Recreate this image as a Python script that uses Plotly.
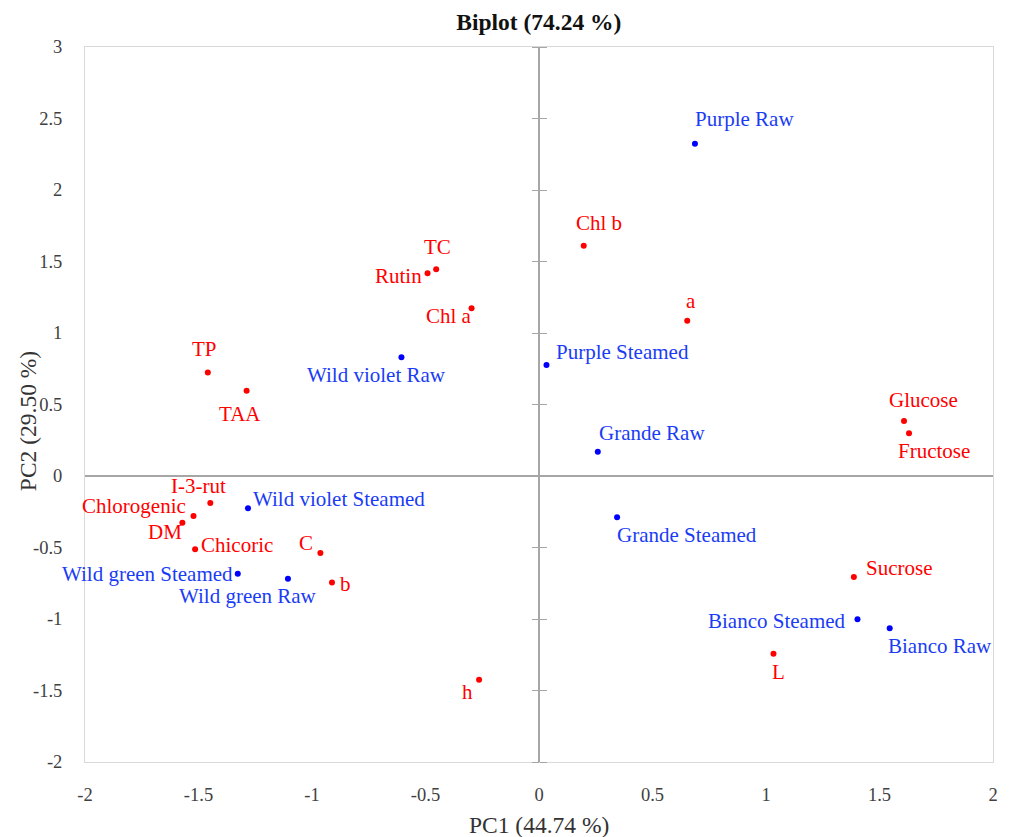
import plotly.graph_objects as go

# ---------------- data ----------------
obs_names = ["Purple Raw", "Purple Steamed", "Wild violet Raw", "Grande Raw",
             "Grande Steamed", "Bianco Steamed", "Bianco Raw",
             "Wild violet Steamed", "Wild green Steamed", "Wild green Raw"]
obs_pc1 = [0.687, 0.033, -0.606, 0.259, 0.344, 1.403, 1.545, -1.282, -1.327, -1.106]
obs_pc2 = [2.323, 0.777, 0.831, 0.170, -0.289, -1.001, -1.064, -0.226, -0.684, -0.718]

var_names = ["TP", "TAA", "Rutin", "TC", "Chl a", "Chl b", "a", "Glucose", "Fructose",
             "I-3-rut", "Chlorogenic", "DM", "Chicoric", "C", "b", "h", "Sucrose", "L"]
var_pc1 = [-1.459, -1.288, -0.491, -0.453, -0.297, 0.197, 0.653, 1.608, 1.630,
           -1.448, -1.522, -1.571, -1.515, -0.963, -0.912, -0.264, 1.387, 1.033]
var_pc2 = [0.723, 0.597, 1.418, 1.446, 1.173, 1.610, 1.085, 0.385, 0.299,
           -0.189, -0.280, -0.327, -0.513, -0.539, -0.744, -1.425, -0.707, -1.243]

x_tick_vals = [-2, -1.5, -1, -0.5, 0, 0.5, 1, 1.5, 2]
x_tick_text = ["-2", "-1.5", "-1", "-0.5", "0", "0.5", "1", "1.5", "2"]
y_tick_vals = [-2, -1.5, -1, -0.5, 0, 0.5, 1, 1.5, 2, 2.5, 3]
y_tick_text = ["-2", "-1.5", "-1", "-0.5", "0", "0.5", "1", "1.5", "2", "2.5", "3"]

title_text = "Biplot (74.24 %)"
x_title = "PC1 (44.74 %)"
y_title = "PC2 (29.50 %)"

# label placement offsets (pixels, relative to each point)
obs_dx = [50, 76, -25, 54, 70, -80, 50, 91, -90, -40]
obs_dy = [25, 13, -18, 19, -18, -2, -18, 9, 0, -17]
var_dx = [-3, -7, -29, 1, -23, 15, 4, 19, 25, -12, -60, -17, 42, -14, 14, -12, 46, 5]
var_dy = [24, -23, -3, 22, -8, 23, 20, 21, -18, 17, 10, -9, 4, 10, -2, -12, 9, -18]

# ---------------- style ----------------
FONT = "Liberation Serif"
BLUE = "#0000ff"
BLUE_TXT = "#1a3cf5"
RED = "#ff0000"
AXIS_GRAY = "#a6a6a6"
FRAME_GRAY = "#d9d9d9"
LABEL_SIZE = 21

fig = go.Figure()

fig.add_trace(go.Scatter(x=obs_pc1, y=obs_pc2, mode="markers",
                         marker=dict(color=BLUE, size=6), name="Observations",
                         hovertext=obs_names, showlegend=False))
fig.add_trace(go.Scatter(x=var_pc1, y=var_pc2, mode="markers",
                         marker=dict(color=RED, size=6), name="Variables",
                         hovertext=var_names, showlegend=False))

# dummy traces to register cross-tick axes
fig.add_trace(go.Scatter(x=[None], y=[None], xaxis="x", yaxis="y2", showlegend=False, hoverinfo="skip"))
fig.add_trace(go.Scatter(x=[None], y=[None], xaxis="x", yaxis="y3", showlegend=False, hoverinfo="skip"))

annotations = []
for n, x, y, dx, dy in zip(obs_names, obs_pc1, obs_pc2, obs_dx, obs_dy):
    annotations.append(dict(x=x, y=y, xref="x", yref="y", text=n, showarrow=False,
                            xshift=dx, yshift=dy, xanchor="center", yanchor="middle",
                            borderpad=0,
                            font=dict(family=FONT, size=LABEL_SIZE, color=BLUE_TXT)))
for n, x, y, dx, dy in zip(var_names, var_pc1, var_pc2, var_dx, var_dy):
    annotations.append(dict(x=x, y=y, xref="x", yref="y", text=n, showarrow=False,
                            xshift=dx, yshift=dy, xanchor="center", yanchor="middle",
                            borderpad=0,
                            font=dict(family=FONT, size=LABEL_SIZE, color=RED)))

annotations.append(dict(x=0.5, y=-0.0886, xref="paper", yref="paper", text=x_title,
                        showarrow=False, xanchor="center", yanchor="middle",
                        font=dict(family=FONT, size=23.5, color="#333333")))
annotations.append(dict(x=-0.0633, y=0.476, xref="paper", yref="paper", text=y_title,
                        showarrow=False, xanchor="center", yanchor="middle", textangle=-90,
                        font=dict(family=FONT, size=23.5, color="#333333")))

fig.update_layout(
    width=1009, height=837,
    margin=dict(l=85, r=16, t=47, b=75),
    paper_bgcolor="white", plot_bgcolor="white",
    title=dict(text="<b>" + title_text + "</b>", x=0.534, xanchor="center",
               y=0.974, yanchor="middle",
               font=dict(family=FONT, size=23.5, color="#111111")),
    annotations=annotations,
    xaxis=dict(range=[-2, 2], tickvals=x_tick_vals, ticktext=x_tick_text,
               showgrid=False, zeroline=True, zerolinecolor=AXIS_GRAY, zerolinewidth=1.5,
               showline=True, mirror=True, linecolor=FRAME_GRAY, linewidth=1,
               ticks="outside", ticklen=16, tickcolor="rgba(0,0,0,0)",
               tickfont=dict(family=FONT, size=18.5, color="#404040")),
    yaxis=dict(range=[-2, 3], tickvals=y_tick_vals, ticktext=y_tick_text,
               showgrid=False, zeroline=True, zerolinecolor=AXIS_GRAY, zerolinewidth=1.5,
               showline=True, mirror=True, linecolor=FRAME_GRAY, linewidth=1,
               ticks="outside", ticklen=18, tickcolor="rgba(0,0,0,0)",
               tickfont=dict(family=FONT, size=18.5, color="#404040")),
    yaxis2=dict(range=[-2, 3], tickvals=y_tick_vals, overlaying="y", anchor="free",
                position=0.5, side="left", showticklabels=False, showgrid=False,
                zeroline=False, showline=False, ticks="outside", ticklen=7,
                tickcolor=AXIS_GRAY, tickwidth=1.2),
    yaxis3=dict(range=[-2, 3], tickvals=y_tick_vals, overlaying="y", anchor="free",
                position=0.5, side="right", showticklabels=False, showgrid=False,
                zeroline=False, showline=False, ticks="outside", ticklen=7,
                tickcolor=AXIS_GRAY, tickwidth=1.2),
)

fig.write_html("out.html")
